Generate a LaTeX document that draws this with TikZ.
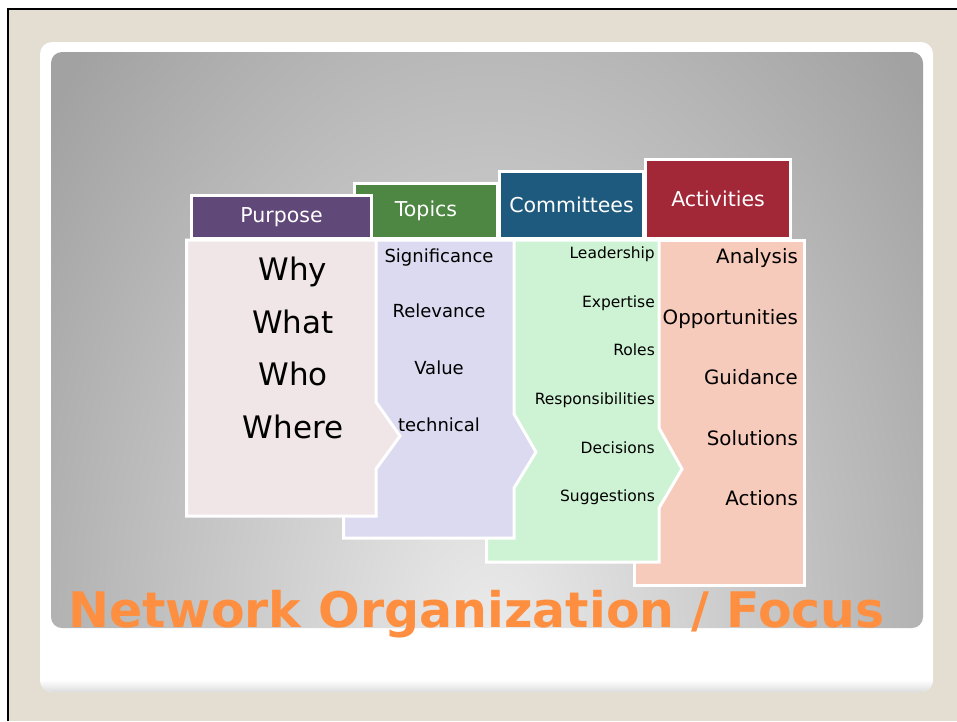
\documentclass[tikz,border=0pt]{standalone}
\usepackage{fontspec}
\setmainfont{DejaVu Sans}
\usepackage{tikz}
\definecolor{slidebg}{HTML}{E4DDD2}
\definecolor{cardshadow}{HTML}{DCDCDC}
\definecolor{panelin}{HTML}{EBEBEB}
\definecolor{panelout}{HTML}{A2A2A2}
\definecolor{purposetab}{HTML}{604878}
\definecolor{topicstab}{HTML}{4E8743}
\definecolor{committeestab}{HTML}{1E5A7D}
\definecolor{activitiestab}{HTML}{A22838}
\definecolor{purposebody}{HTML}{F0E6E8}
\definecolor{topicsbody}{HTML}{DCDAF0}
\definecolor{committeesbody}{HTML}{CEF2D4}
\definecolor{activitiesbody}{HTML}{F7CBBB}
\definecolor{titleorange}{HTML}{FF8F40}
\tikzset{
% Column headers, column panels and the words inside them
tab node/.style={rectangle,draw=white,line width=3pt,inner sep=0,text=white,font=\fontsize{20.5}{24}\selectfont},
panel/.style={draw=white,line width=3pt,line join=miter},
big item/.style={anchor=base,inner sep=0,font=\fontsize{31}{37}\selectfont},
mid item/.style={anchor=base,inner sep=0,font=\fontsize{18}{22}\selectfont},
small item/.style={anchor=base east,inner sep=0,font=\fontsize{15.5}{19}\selectfont},
right item/.style={anchor=base east,inner sep=0,font=\fontsize{19.8}{24}\selectfont}
}
\begin{document}
\begin{tikzpicture}[x=1pt,y=-1pt]
\useasboundingbox (0,0) rectangle (957,721);
% slide frame
\fill[white] (0,0) rectangle (957,721);
\fill[slidebg] (9,10) rectangle (957,721);
\draw[black,line width=2pt] (8,721) -- (8,9) -- (957,9);
\fill[white,rounded corners=12pt] (40,42) rectangle (933,692);
\begin{scope}
\clip[rounded corners=12pt] (40,42) rectangle (933,692);
\shade[top color=white,bottom color=cardshadow] (40,680) rectangle (933,692);
\end{scope}
\begin{scope}
\clip[rounded corners=11pt] (51,52) rectangle (923,628);
\shade[inner color=panelin,outer color=panelout] (-70,-210) rectangle (1050,1490);
\end{scope}

% Activities
\node[tab node,fill=activitiestab,minimum width=145pt,minimum height=79pt] (activities) at (718,199) {Activities};
\draw[panel,fill=activitiesbody] (634,240) -- (804,240) -- (804,585) -- (634,585) -- cycle;
\node[right item] (analysis) at (798,263) {Analysis};
\node[right item] (opportunities) at (798,324) {Opportunities};
\node[right item] (guidance) at (798,384) {Guidance};
\node[right item] (solutions) at (798,445) {Solutions};
\node[right item] (actions) at (798,505) {Actions};

% Committees
\node[tab node,fill=committeestab,minimum width=144pt,minimum height=67pt] (committees) at (571.5,205) {Committees};
\draw[panel,fill=committeesbody] (486.5,240) -- (659,240) -- (659,428) -- (682,469) -- (659,508) -- (659,562) -- (486.5,562) -- cycle;
\node[small item] (leadership) at (655,258) {Leadership};
\node[small item] (expertise) at (655,307) {Expertise};
\node[small item] (roles) at (655,355) {Roles};
\node[small item] (responsibilities) at (655,404) {Responsibilities};
\node[small item] (decisions) at (655,453) {Decisions};
\node[small item] (suggestions) at (655,501) {Suggestions};

% Topics
\node[tab node,fill=topicstab,minimum width=143pt,minimum height=55pt] (topics) at (426,211) {Topics};
\draw[panel,fill=topicsbody] (343.5,240) -- (514,240) -- (514,414) -- (536,452) -- (514,488) -- (514,538) -- (343.5,538) -- cycle;
\node[mid item] (significance) at (439,262) {Significance};
\node[mid item] (relevance) at (439,317) {Relevance};
\node[mid item] (value) at (439,374) {Value};
\node[mid item] (technical) at (439,431) {technical};

% Purpose
\node[tab node,fill=purposetab,minimum width=180pt,minimum height=43pt] (purpose) at (281.5,217) {Purpose};
\draw[panel,fill=purposebody] (186.5,240) -- (376,240) -- (376,402) -- (400,436) -- (376,469) -- (376,516) -- (186.5,516) -- cycle;
\node[big item] (why) at (293,280) {Why};
\node[big item] (what) at (293,333) {What};
\node[big item] (who) at (293,385) {Who};
\node[big item] (where) at (293,438) {Where};

% title
\node[anchor=base west,inner sep=0,text=titleorange,font=\fontsize{49}{58}\selectfont\bfseries] (title) at (68,627) {Network Organization / Focus};
\end{tikzpicture}
\end{document}
